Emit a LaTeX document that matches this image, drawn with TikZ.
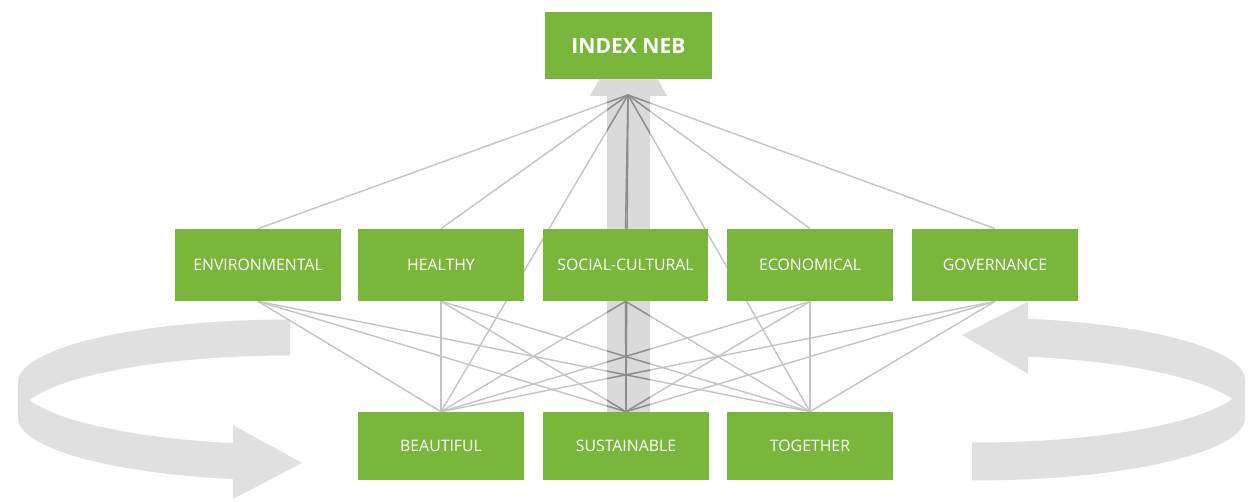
\documentclass[tikz,border=0pt]{standalone}
\usepackage{fontspec}
\setmainfont{Open Sans}
\usetikzlibrary{backgrounds}

\definecolor{nebgreen}{RGB}{122,182,60}
\definecolor{ribbongray}{RGB}{224,224,224}
\definecolor{shaftgray}{RGB}{218,218,218}
\definecolor{linkgray}{RGB}{196,196,196}
\definecolor{linkdark}{RGB}{140,140,140}

\begin{document}
\begin{tikzpicture}[x=0.02cm, y=-0.02cm,
  box/.style={fill=nebgreen, text=white, inner sep=0pt, minimum width=3.32cm,
              font=\fontsize{9}{10}\selectfont},
  topbox/.style={box, minimum width=3.34cm, minimum height=1.34cm,
              font=\fontsize{12}{14}\selectfont\bfseries},
  midbox/.style={box, minimum height=1.44cm},
  basebox/.style={box, minimum height=1.36cm},
  link/.style={draw=linkgray, line width=0.8pt},
  darklink/.style={draw=linkdark, line width=0.8pt},
]
\useasboundingbox (0,0) rectangle (1250,502);

% goal, dimensions and values
\node[topbox] (index) at (628.5,45.5) {INDEX NEB};

\node[midbox] (env)     at (258,265) {ENVIRONMENTAL};
\node[midbox] (healthy) at (441,265) {HEALTHY};
\node[midbox] (social)  at (625.5,265) {SOCIAL-CULTURAL};
\node[midbox] (econ)    at (810,265) {ECONOMICAL};
\node[midbox] (gov)     at (995,265) {GOVERNANCE};

\node[basebox] (beautiful)   at (441,446) {BEAUTIFUL};
\node[basebox] (sustainable) at (626,446) {SUSTAINABLE};
\node[basebox] (together)    at (810,446) {TOGETHER};

\coordinate (hub) at (628,95);

\begin{pgfonlayer}{background}
  % left ribbon: upper half, then lower half ending in a head
  \fill[ribbongray]
    plot[domain=270:180, samples=40, variable=\t] ({290+272*cos(\t)},{400+62.5*sin(\t)-18})
    -- plot[domain=180:270, samples=40, variable=\t] ({290+272*cos(\t)},{400+62.5*sin(\t)+18})
    -- cycle;
  \fill[ribbongray]
    plot[domain=180:102.1, samples=40, variable=\t] ({290+272*cos(\t)},{400+62.5*sin(\t)-18})
    -- (233,425) -- (302,463) -- (233,499)
    -- plot[domain=102.1:180, samples=40, variable=\t] ({290+272*cos(\t)},{400+62.5*sin(\t)+18})
    -- cycle;

  % right ribbon: head on the upper half, flat end below
  \fill[ribbongray]
    (1028,301.7) -- (962,335) -- (1028,373.7)
    -- plot[domain=281.3:360, samples=40, variable=\t] ({975+270*cos(\t)},{399+62.5*sin(\t)+19})
    -- plot[domain=360:281.3, samples=40, variable=\t] ({975+270*cos(\t)},{399+62.5*sin(\t)-19})
    -- cycle;
  \fill[ribbongray]
    plot[domain=0:90.6, samples=40, variable=\t] ({975+270*cos(\t)},{399+62.5*sin(\t)-19})
    -- plot[domain=90.6:0, samples=40, variable=\t] ({975+270*cos(\t)},{399+62.5*sin(\t)+19})
    -- cycle;

  % central upward arrow
  \fill[shaftgray] (607,96) rectangle (650,412);
  \fill[shaftgray] (590,96) -- (628.5,26) -- (667,96) -- cycle;

  % connections
  \foreach \n in {env,healthy,social,econ,gov,beautiful,sustainable,together}
    \draw[link] (hub) -- (\n.north);
  \foreach \m in {env,healthy,social,econ,gov}
    \foreach \b in {beautiful,sustainable,together}
      \draw[link] (\m.south) -- (\b.north);

  % connections seen through the arrow
  \begin{scope}
    \clip (607,96) rectangle (650,412) (590,96) -- (628.5,26) -- (667,96) -- cycle;
    \foreach \n in {env,healthy,social,econ,gov,beautiful,sustainable,together}
      \draw[darklink] (hub) -- (\n.north);
    \foreach \m in {env,healthy,social,econ,gov}
      \foreach \b in {beautiful,sustainable,together}
        \draw[darklink] (\m.south) -- (\b.north);
  \end{scope}
\end{pgfonlayer}
\end{tikzpicture}
\end{document}
